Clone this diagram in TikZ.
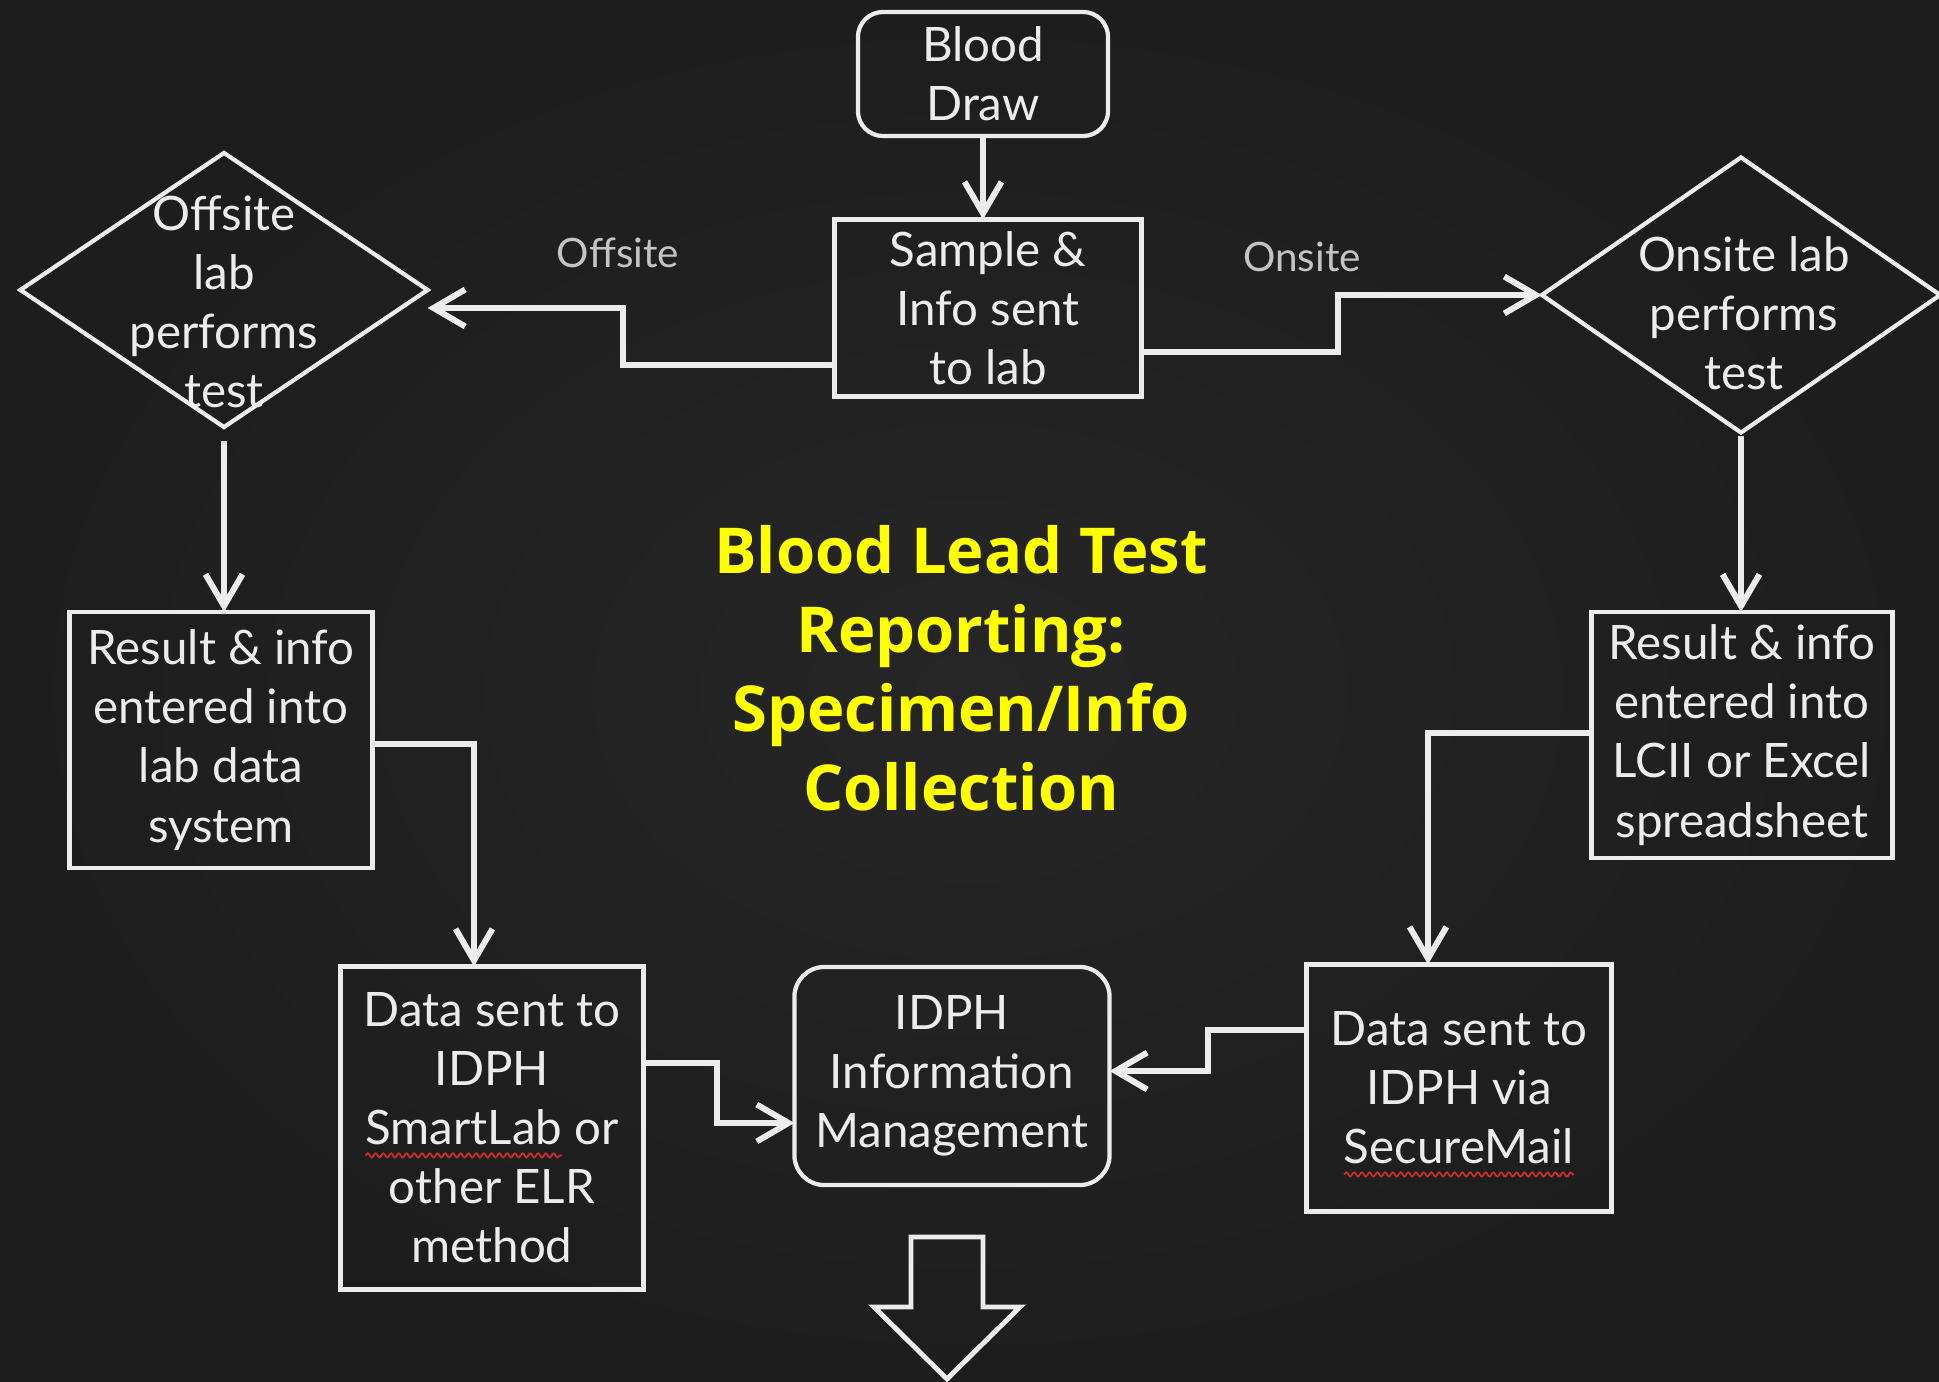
\documentclass[tikz,border=0pt]{standalone}
\usepackage{fontspec}
\usepackage{tikz}
\usetikzlibrary{shapes.geometric, arrows.meta, calc, decorations.pathmorphing}
\setmainfont{Lato}
\newfontfamily\titlefont{Open Sans}
\definecolor{board}{RGB}{38,38,38}
\definecolor{board-edge}{RGB}{29,29,29}
\definecolor{chalk}{RGB}{236,236,236}
\definecolor{chalk-dim}{RGB}{196,196,196}
\definecolor{title-yellow}{RGB}{255,255,0}
\definecolor{spell-red}{RGB}{205,45,45}
\newsavebox{\spellbox}
\newlength{\spellwidth}
\newcommand{\spellmark}[1]{\sbox{\spellbox}{#1}\setlength{\spellwidth}{\wd\spellbox}\rlap{\tikz[overlay]{\draw[spell-red, line width=0.5pt, decorate, decoration={snake, amplitude=0.6pt, segment length=2.2pt}] (0pt,-3pt) -- (\spellwidth,-3pt);}}\usebox{\spellbox}}
\tikzset{
    chalk-box/.style = {draw=chalk, line width=1.2pt, rectangle, text=chalk, align=center, inner sep=0pt, outer sep=0pt, font=\fontsize{13.5pt}{16.8pt}\selectfont},
    chalk-round/.style = {chalk-box, rounded corners=0.25cm},
    chalk-diamond/.style = {draw=chalk, line width=1.2pt, diamond, inner sep=0pt, outer sep=0pt},
    chalk-text/.style = {text=chalk, align=center, inner sep=0pt, font=\fontsize{13.5pt}{16.8pt}\selectfont},
    chalk-label/.style = {text=chalk-dim, inner sep=0pt, font=\fontsize{11.5pt}{13pt}\selectfont},
    chalk-line/.style = {draw=chalk, line width=1.7pt, -{Straight Barb[length=9pt, width=10.5pt]}},
    title-text/.style = {text=title-yellow, align=center, font=\titlefont\bfseries\fontsize{18pt}{22.5pt}\selectfont},
}

\begin{document}
\begin{tikzpicture}[x=0.01cm, y=-0.01cm]
% chalkboard
\shade[inner color=board, outer color=board-edge] (0,0) rectangle (1939,1382);
\useasboundingbox (0,0) rectangle (1939,1382);

\node[title-text] (title) at (961,668) {Blood Lead Test\\Reporting:\\Specimen/Info\\Collection};

% top of the flow
\node[chalk-round, minimum width=2.5cm, minimum height=1.24cm] (blood) at (983,74) {Blood\\Draw};
\node[chalk-box, minimum width=3.07cm, minimum height=1.77cm] (sample) at (988,308) {Sample \&\\Info sent\\to lab};

\node[chalk-diamond, minimum width=4.07cm, minimum height=2.74cm] (offsite) at (224,290) {};
\node[chalk-text] (offsite-text) at (224,302) {Offsite\\lab\\performs\\test};
\node[chalk-diamond, minimum width=3.98cm, minimum height=2.75cm] (onsite) at (1741,295) {};
\node[chalk-text] (onsite-text) at (1744,313) {Onsite lab\\performs\\test};

\node[chalk-label] (offsite-label) at (618,253) {Offsite};
\node[chalk-label] (onsite-label) at (1302,257) {Onsite};

% results
\node[chalk-box, minimum width=3.03cm, minimum height=2.56cm] (result-off) at (221,740) {Result \& info\\entered into\\lab data\\system};
\node[chalk-box, minimum width=3.01cm, minimum height=2.46cm] (result-on) at (1742,735) {Result \& info\\entered into\\LCII or Excel\\spreadsheet};

% reporting
\node[chalk-box, minimum width=3.03cm, minimum height=3.23cm] (smartlab) at (492,1128) {Data sent to\\IDPH\\\spellmark{SmartLab} or\\other ELR\\method};
\node[chalk-box, minimum width=3.05cm, minimum height=2.47cm] (securemail) at (1459,1088) {Data sent to\\IDPH via\\\spellmark{SecureMail}};
\node[chalk-round, rounded corners=0.3cm, minimum width=3.15cm, minimum height=2.18cm] (idph) at (952,1076) {IDPH\\Information\\Management};

% connectors
\draw[chalk-line] (blood.south) -- (blood.south |- sample.north);
\draw[chalk-line] ($(sample.west)+(0,57)$) -- ++(-211,0) |- ($(offsite.east)+(0,18)$);
\draw[chalk-line] ($(sample.east)+(0,44)$) -- ++(196,0) |- (onsite.west);
\draw[chalk-line, shorten <=4pt] (offsite.south) -- (offsite.south |- result-off.north);
\draw[chalk-line, shorten <=1pt] (onsite.south) -- (onsite.south |- result-on.north);
\draw[chalk-line] ($(result-off.east)+(0,4)$) -| ($(smartlab.north)+(-18,0)$);
\draw[chalk-line] ($(result-on.west)+(0,-2)$) -| ($(securemail.north)+(-31,0)$);
\draw[chalk-line] ($(smartlab.east)+(0,-65)$) -- ++(73,0) |- ($(idph.west)+(0,47)$);
\draw[chalk-line] ($(securemail.west)+(0,-58)$) -- ++(-98,0) |- ($(idph.east)+(0,-5)$);

% hollow arrow to the next step
\draw[draw=chalk, line width=1.4pt, line join=miter] (911,1237) -- (983,1237) -- (983,1307) -- (1020,1307) -- (947,1379) -- (874,1307) -- (911,1307) -- cycle;
\end{tikzpicture}
\end{document}
